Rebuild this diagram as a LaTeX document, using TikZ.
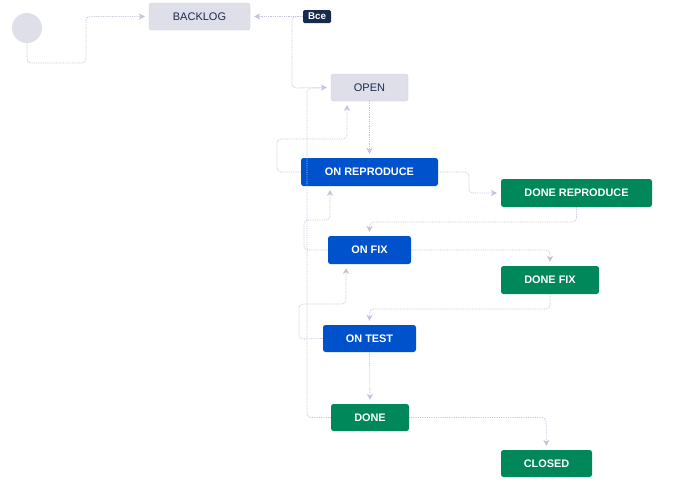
\documentclass[tikz,border=0pt]{standalone}
\usepackage{fontspec}
\setmainfont{Liberation Sans}
\usetikzlibrary{arrows.meta}
\definecolor{jgrey}{RGB}{223,223,234}
\definecolor{jblue}{RGB}{0,82,204}
\definecolor{jgreen}{RGB}{0,135,90}
\definecolor{jnavy}{RGB}{23,43,77}
\definecolor{jline}{RGB}{196,194,218}
\definecolor{jtext}{RGB}{23,43,77}
\tikzset{
  stat/.style={rectangle, rounded corners=2.5pt, inner sep=0pt, font=\fontsize{10.9}{12}\selectfont\bfseries, text=white},
  greystat/.style={stat, fill=jgrey, draw=jgrey!85!gray, line width=0.4pt, font=\fontsize{11}{12}\selectfont, text=jtext},
  bluestat/.style={stat, fill=jblue},
  greenstat/.style={stat, fill=jgreen},
  conn/.style={draw=jline, line width=0.8pt, densely dotted, rounded corners=4pt,
     -{Stealth[length=6pt,width=6pt,fill=jline,line width=0.5pt]}, shorten >=4pt},
  plain/.style={draw=jline, line width=0.8pt, densely dotted, rounded corners=4pt}
}
\begin{document}
\begin{tikzpicture}[x=1pt,y=-1pt]
\useasboundingbox (0,0) rectangle (681,499);
\fill[white] (0,0) rectangle (681,499);
% nodes
\node[circle, fill=jgrey, minimum size=30pt, inner sep=0pt] (start) at (27,28) {};
\node[greystat, minimum width=101pt, minimum height=27pt] (backlog) at (199.5,16.5) {BACKLOG};
\node[rectangle, rounded corners=1.5pt, fill=jnavy, text=white, inner sep=0pt, minimum width=28pt, minimum height=13pt, font=\fontsize{9.8}{10}\selectfont\bfseries] (bce) at (317,16.5) {Все};
\node[greystat, minimum width=77pt, minimum height=27pt] (open) at (369.5,87.5) {OPEN};
\node[bluestat, minimum width=137pt, minimum height=28pt] (onrep) at (369.5,172) {ON REPRODUCE};
\node[greenstat, minimum width=151pt, minimum height=28pt] (donerep) at (576.5,193) {DONE REPRODUCE};
\node[bluestat, minimum width=83pt, minimum height=28pt] (onfix) at (369.5,250) {ON FIX};
\node[greenstat, minimum width=98pt, minimum height=28pt] (donefix) at (550,280) {DONE FIX};
\node[bluestat, minimum width=93pt, minimum height=27pt] (ontest) at (369.5,338.5) {ON TEST};
\node[greenstat, minimum width=78pt, minimum height=27pt] (done) at (370,417.5) {DONE};
\node[greenstat, minimum width=91pt, minimum height=27pt] (closed) at (546.5,463.5) {CLOSED};
% connectors
\draw[conn] (start.south) -- (27,63) -- (86,63) -- (86,16.5) -- (backlog.west);
\draw[conn] (bce.west) -- (backlog.east);
\draw[conn] (bce.west) -- (292,16.5) -- (292,88) -- (open.west);
\draw[conn] (open.south) -- (onrep.north);
\draw[conn] (onrep.west) -- (277,172) -- (277,139) -- (347,139) -- (347,101);
\draw[conn] (onrep.east) -- (469,172) -- (469,193) -- (donerep.west);
\draw[conn] (donerep.south) -- (576.5,222) -- (369.5,222) -- (onfix.north);
\draw[conn] (onfix.west) -- (304,250) -- (304,220) -- (330,220) -- (330,186);
\draw[conn] (onfix.east) -- (550,250) -- (donefix.north);
\draw[conn] (donefix.south) -- (550,309) -- (369.5,309) -- (ontest.north);
\draw[conn] (ontest.west) -- (299,339) -- (299,304) -- (346,304) -- (346,264);
\draw[conn] (ontest.south) -- (done.north);
\draw[conn] (done.east) -- (546,417.5) -- (closed.north);
\draw[plain] (done.west) -- (307,417.5) -- (307,88) -- (320,88);
\end{tikzpicture}
\end{document}
